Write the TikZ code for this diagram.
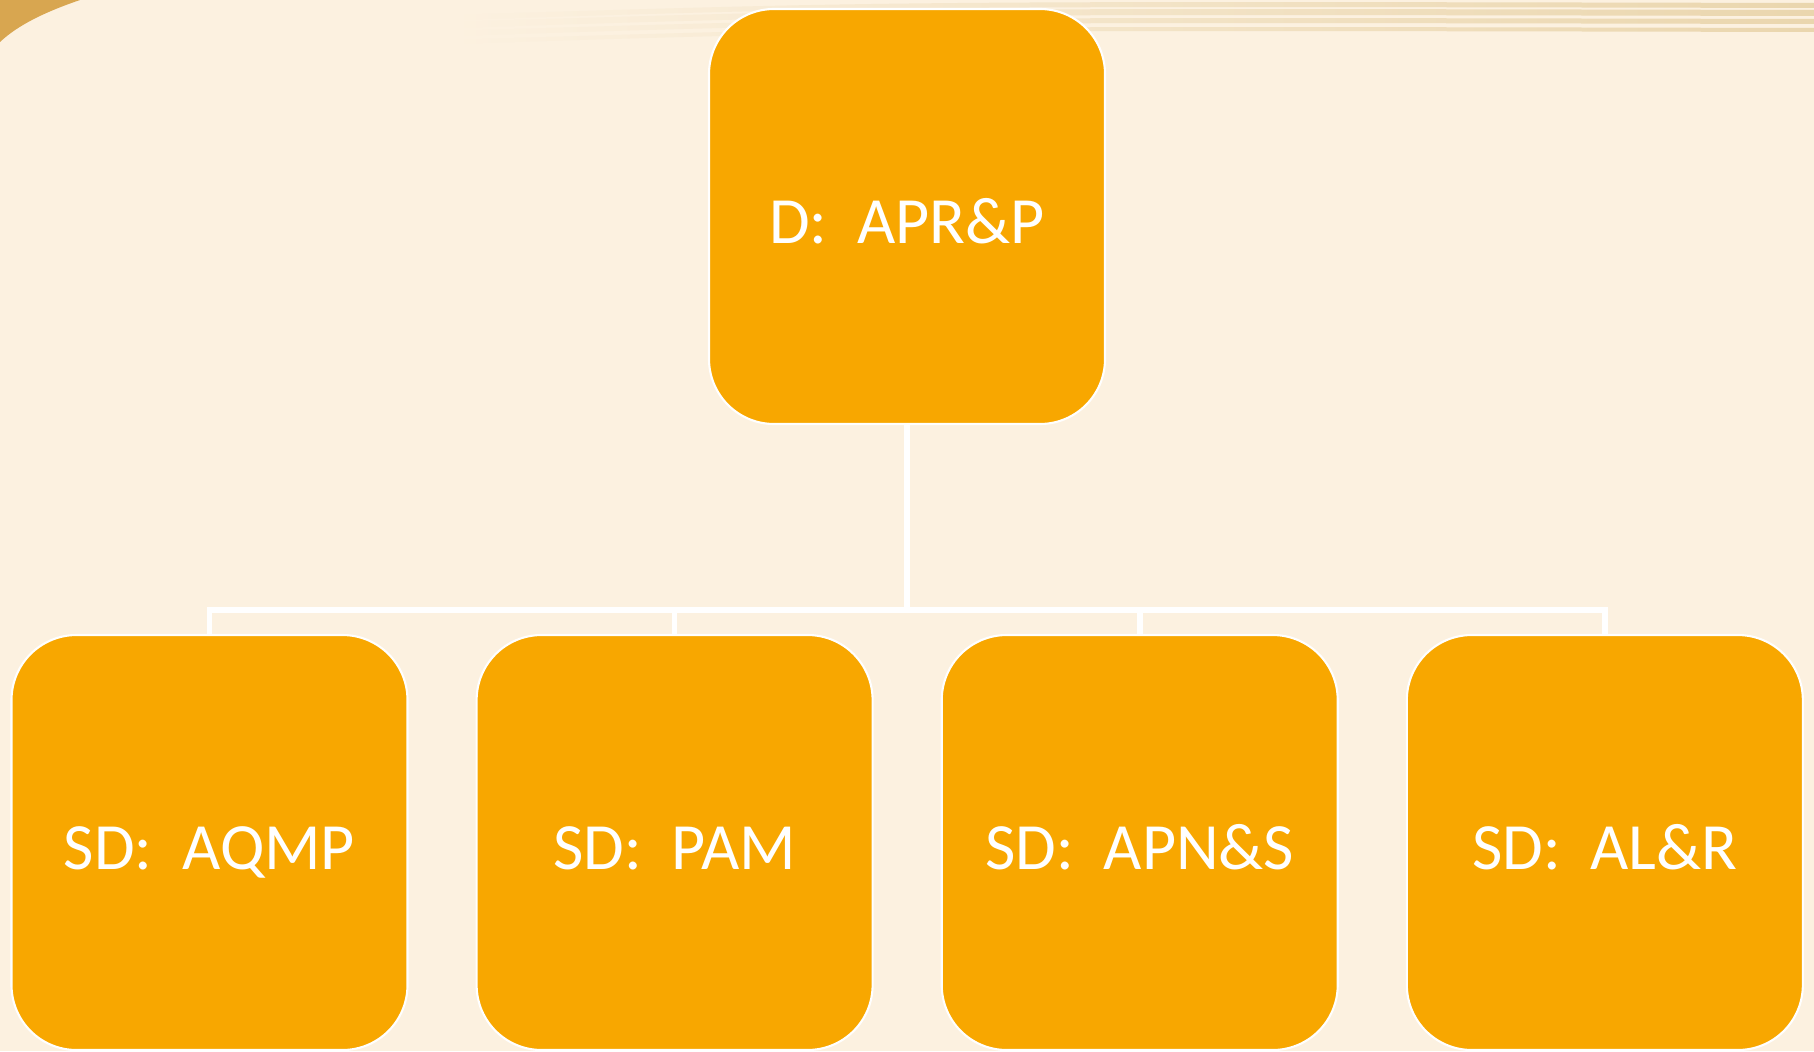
\documentclass[tikz,border=0pt]{standalone}
\usepackage{fontspec}
\setmainfont{Carlito}
\usetikzlibrary{positioning}

\definecolor{bgcream}{HTML}{FCF1E0}
\definecolor{boxorange}{HTML}{F8A700}
\definecolor{swirlgold}{HTML}{D8A650}
\definecolor{stripetan}{HTML}{EAD6AE}

\begin{document}
\begin{tikzpicture}[
  unit/.style={draw=white, line width=0.6pt, fill=boxorange, rounded corners=0.65cm,
    minimum width=3.96cm, minimum height=4.15cm, inner sep=0pt,
    text height=0.54cm, text depth=0pt,
    text=white, font=\fontsize{18.8}{22}\selectfont},
  link/.style={draw=white, line width=1.6pt}
]
\fill[bgcream] (0,0) rectangle (18.14,-10.51);
\useasboundingbox (0,0) rectangle (18.14,-10.51);
% corner swirl and faint stripes at the top
\fill[swirlgold] (0,0) -- (0.8,0) .. controls (0.45,-0.12) and (0.18,-0.25) .. (0,-0.42) -- cycle;
\foreach \y/\w in {-0.03/0.05, -0.1/0.06, -0.19/0.05, -0.28/0.04}
  \shade[left color=bgcream, right color=stripetan]
    (4.5,\y-0.12) .. controls (9,\y+0.02) .. (18.14,\y) -- (18.14,\y-\w)
    .. controls (9,\y+0.02-\w) .. (4.5,\y-0.12-\w) -- cycle;

\node[unit] (dir) at (9.07,-2.165) {D:\ \ APR\&P};

\node[unit] (sd1) at (2.095,-8.425) {SD:\ \ AQMP};
\node[unit, right=0.67cm of sd1] (sd2) {SD:\ \ PAM};
\node[unit, right=0.67cm of sd2] (sd3) {SD:\ \ APN\&S};
\node[unit, right=0.67cm of sd3] (sd4) {SD:\ \ AL\&R};

\draw[link] (dir.south) -- ++(0,-1.86);
\draw[link] (sd1.north) -- ++(0,0.24) -| (sd4.north);
\draw[link] (sd2.north) -- ++(0,0.24);
\draw[link] (sd3.north) -- ++(0,0.24);
\end{tikzpicture}
\end{document}
